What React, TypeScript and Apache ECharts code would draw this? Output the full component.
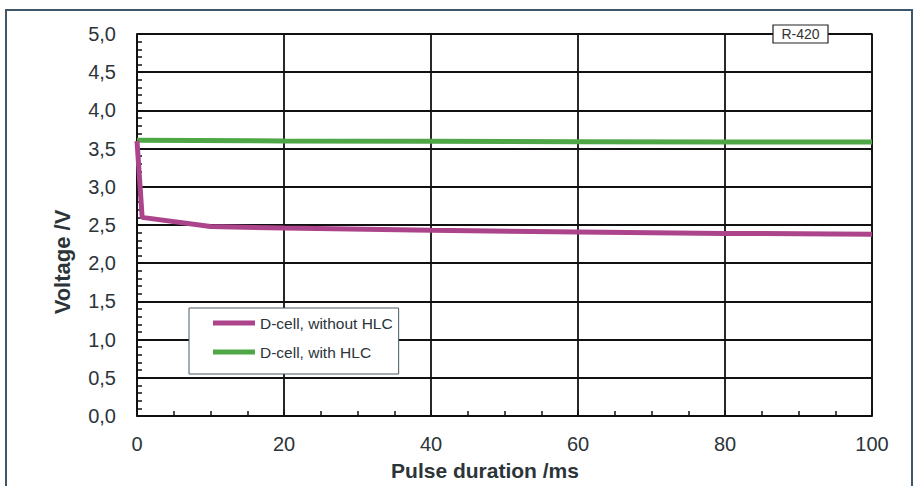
import React, { useEffect, useRef } from "react";
import * as echarts from "echarts";

const seriesNames = ["D-cell, without HLC", "D-cell, with HLC"];
const durationWithout = [0, 0.7, 10, 20, 40, 60, 80, 100];
const voltageWithout = [3.6, 2.6, 2.48, 2.46, 2.43, 2.41, 2.39, 2.38];
const durationWith = [0, 20, 40, 60, 80, 100];
const voltageWith = [3.61, 3.6, 3.595, 3.59, 3.585, 3.585];
const xTitle = "Pulse duration /ms";
const yTitle = "Voltage /V";
const tagText = "R-420";

export default function App() {
  const ref = useRef<HTMLDivElement>(null);
  useEffect(() => {
    if (!ref.current) return;
    const chart = echarts.init(ref.current, undefined, { renderer: "svg" });
    const font = "Liberation Sans, Arial, sans-serif";
    const textColor = "#2b3439";
    chart.setOption({
      animation: false,
      backgroundColor: "#ffffff",
      textStyle: { fontFamily: font },
      grid: {
        left: 137,
        top: 34,
        width: 735,
        height: 382,
        show: true,
        borderColor: "#111",
        borderWidth: 1.5,
        backgroundColor: "transparent",
      },
      legend: {
        orient: "vertical",
        left: 189,
        top: 308,
        padding: [6, 6, 13, 24],
        itemGap: 11,
        itemWidth: 42,
        itemHeight: 5,
        icon: "rect",
        backgroundColor: "#ffffff",
        borderColor: "#4a5a66",
        borderWidth: 1,
        data: seriesNames,
        textStyle: { fontSize: 15.5, color: textColor, fontFamily: font, lineHeight: 18 },
      },
      xAxis: {
        type: "value",
        min: 0,
        max: 100,
        interval: 20,
        axisLine: { show: true, lineStyle: { color: "#111", width: 1.5 } },
        axisTick: { show: true, inside: true, length: 6, lineStyle: { color: "#111", width: 1.5 } },
        minorTick: { show: true, splitNumber: 4, length: 5, lineStyle: { color: "#111", width: 1.5 } },
        axisLabel: { fontSize: 20, color: textColor, margin: 18, fontFamily: font },
        splitLine: { show: true, lineStyle: { color: "#111", width: 1.8 } },
      },
      yAxis: {
        type: "value",
        min: 0,
        max: 5,
        interval: 0.5,
        axisLine: { show: true, lineStyle: { color: "#111", width: 1.5 } },
        axisTick: { show: true, inside: true, length: 6, lineStyle: { color: "#111", width: 1.5 } },
        minorTick: { show: true, splitNumber: 5, length: 5, lineStyle: { color: "#111", width: 1.5 } },
        axisLabel: {
          fontSize: 20,
          color: textColor,
          margin: 21,
          fontFamily: font,
          formatter: (v: number) => v.toFixed(1).replace(".", ","),
        },
        splitLine: { show: true, lineStyle: { color: "#111", width: 1.8 } },
      },
      series: [
        {
          name: seriesNames[1],
          type: "line",
          showSymbol: false,
          color: "#4fa647",
          lineStyle: { width: 5, color: "#4fa647" },
          data: durationWith.map((x, i) => [x, voltageWith[i]]),
          z: 3,
        },
        {
          name: seriesNames[0],
          type: "line",
          showSymbol: false,
          color: "#ac448b",
          lineStyle: { width: 5, color: "#ac448b" },
          data: durationWithout.map((x, i) => [x, voltageWithout[i]]),
          z: 4,
        },
      ],
      graphic: [
        {
          type: "rect",
          shape: { x: 6, y: 10, width: 906, height: 500 },
          style: { fill: "none", stroke: "#3e5668", lineWidth: 2 },
          silent: true,
        },
        {
          type: "rect",
          shape: { x: 773, y: 25, width: 55, height: 18 },
          style: { fill: "#ffffff", stroke: "#222", lineWidth: 1.2 },
          z: 100,
        },
        {
          type: "text",
          x: 800.5,
          y: 34,
          style: {
            text: tagText,
            fontSize: 14,
            fontFamily: font,
            fill: "#333",
            align: "center",
            verticalAlign: "middle",
          },
          z: 101,
        },
        {
          type: "text",
          x: 485,
          y: 470,
          style: {
            text: xTitle,
            fontSize: 21,
            fontWeight: "bold",
            fontFamily: font,
            fill: textColor,
            align: "center",
            verticalAlign: "middle",
          },
        },
        {
          type: "text",
          x: 62,
          y: 262,
          rotation: Math.PI / 2,
          style: {
            text: yTitle,
            fontSize: 22,
            fontWeight: "bold",
            fontFamily: font,
            fill: textColor,
            align: "center",
            verticalAlign: "middle",
          },
        },
      ],
    });
    return () => chart.dispose();
  }, []);
  return (
    <div
      ref={ref}
      style={{ position: "fixed", left: 0, top: 0, width: 918, height: 486 }}
    />
  );
}
